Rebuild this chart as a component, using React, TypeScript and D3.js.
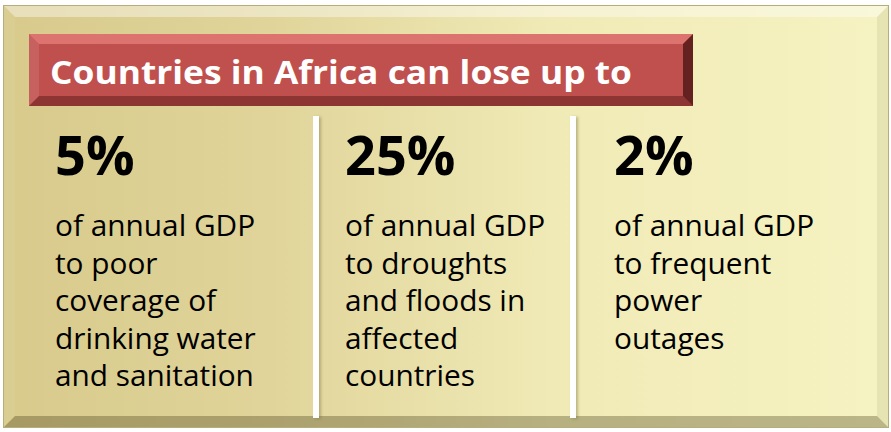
import React, { useEffect, useRef } from "react";
import * as d3 from "d3";

const title = "Countries in Africa can lose up to";
const percentages = ["5%", "25%", "2%"];
const descriptions = [
  ["of annual GDP", "to poor", "coverage of", "drinking water", "and sanitation"],
  ["of annual GDP", "to droughts", "and floods in", "affected", "countries"],
  ["of annual GDP", "to frequent", "power", "outages"],
];

const W = 891;
const H = 432;
const FONT = "'Open Sans', 'Noto Sans', sans-serif";

export default function App() {
  const ref = useRef<SVGSVGElement>(null);

  useEffect(() => {
    const svg = d3.select(ref.current);
    svg.selectAll("*").remove();
    const defs = svg.append("defs");

    const bg = defs.append("linearGradient").attr("id", "bg").attr("x1", 0).attr("x2", 1).attr("y1", 0).attr("y2", 0);
    [
      [0, "#D8CA8B"],
      [0.3, "#E0D49A"],
      [0.62, "#F0EAB6"],
      [1, "#F6F3C2"],
    ].forEach(([o, c]) => bg.append("stop").attr("offset", o as number).attr("stop-color", c as string));

    const sh = defs.append("filter").attr("id", "sh").attr("x", -1).attr("y", -0.1).attr("width", 3).attr("height", 1.2);
    sh.append("feDropShadow").attr("dx", 2).attr("dy", 1).attr("stdDeviation", 1.5).attr("flood-color", "#7a6f40").attr("flood-opacity", 0.45);

    // outer frame
    const fx = 3, fy = 5, fw = 886, fh = 423, b = 12;
    svg.append("rect").attr("x", fx).attr("y", fy).attr("width", fw).attr("height", fh).attr("fill", "url(#bg)");
    const bevel = (x: number, y: number, w: number, h: number, bw: number, cols: [string, number][]) => {
      const x2 = x + w, y2 = y + h;
      const polys = [
        [[x, y], [x2, y], [x2 - bw, y + bw], [x + bw, y + bw]],
        [[x, y], [x + bw, y + bw], [x + bw, y2 - bw], [x, y2]],
        [[x, y2], [x + bw, y2 - bw], [x2 - bw, y2 - bw], [x2, y2]],
        [[x2, y], [x2, y2], [x2 - bw, y2 - bw], [x2 - bw, y + bw]],
      ];
      polys.forEach((p, i) => {
        svg.append("path").attr("d", d3.line()(p as [number, number][]) + "Z")
          .attr("fill", cols[i][0]).attr("fill-opacity", cols[i][1]);
      });
    };
    bevel(fx, fy, fw, fh, b, [["#ffffff", 0.4], ["#ffffff", 0.06], ["#3d3510", 0.32], ["#3d3510", 0.08]]);
    svg.append("rect").attr("x", fx + 0.5).attr("y", fy + 0.5).attr("width", fw - 1).attr("height", fh - 1)
      .attr("fill", "none").attr("stroke", "#b7ad7c").attr("stroke-width", 1);

    // banner
    const bx = 29, by = 34, bwid = 664, bh = 72, bb = 10;
    svg.append("rect").attr("x", bx).attr("y", by).attr("width", bwid).attr("height", bh).attr("fill", "#C0504D");
    bevel(bx, by, bwid, bh, bb, [["#ff9e9a", 0.45], ["#ffffff", 0.1], ["#3a0a09", 0.38], ["#2a0505", 0.62]]);
    svg.append("text").attr("x", 50).attr("y", 84).attr("fill", "#ffffff")
      .attr("font-family", FONT).attr("font-weight", 700).attr("font-size", 33)
      .attr("textLength", 582).attr("lengthAdjust", "spacingAndGlyphs")
      .text(title);

    // dividers
    const dividers = [316, 573];
    dividers.forEach((x) => {
      svg.append("rect").attr("x", x - 3).attr("y", 116).attr("width", 6).attr("height", 302)
        .attr("fill", "#ffffff").attr("filter", "url(#sh)");
    });

    const colX = d3.scaleOrdinal<number, number>().domain([0, 1, 2]).range([55, 345, 614]);
    percentages.forEach((p, i) => {
      svg.append("text").attr("x", colX(i)).attr("y", 175).attr("fill", "#000")
        .attr("font-family", FONT).attr("font-weight", 700).attr("font-size", 54).text(p);
      descriptions[i].forEach((line, j) => {
        svg.append("text").attr("x", colX(i)).attr("y", 236 + j * 37.6).attr("fill", "#000")
          .attr("font-family", FONT).attr("font-size", 29.8).text(line);
      });
    });
  }, []);

  return (
    <svg ref={ref} width={W} height={H} style={{ position: "absolute", left: 0, top: 0, display: "block" }} />
  );
}
